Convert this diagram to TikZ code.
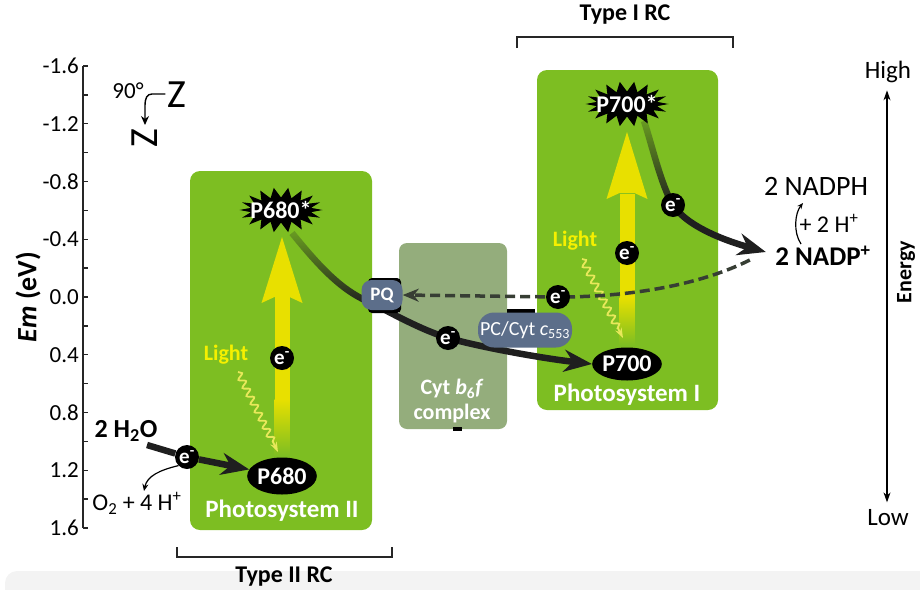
\documentclass[tikz,border=0pt]{standalone}
\usepackage{fontspec}
\setmainfont{Carlito}
\usetikzlibrary{arrows.meta,fadings,decorations.pathmorphing,shapes.geometric,calc}
\definecolor{psgreen}{RGB}{125,190,34}
\definecolor{cytgreen}{RGB}{148,173,124}
\definecolor{slate}{RGB}{92,110,138}
\definecolor{arrowyel}{RGB}{232,224,0}
\definecolor{lighttxt}{RGB}{245,240,0}
\definecolor{wavyel}{RGB}{232,232,90}
\definecolor{dashgray}{RGB}{55,62,52}
\definecolor{bandgray}{RGB}{243,243,243}
\newcommand\fsz[1]{\fontsize{#1}{#1}\selectfont}
\tikzfading[name=fadetop, top color=transparent!80, bottom color=transparent!0]
\begin{document}
\begin{tikzpicture}[x=1pt,y=-1pt,
  psbox/.style={fill=psgreen, rounded corners=10pt},
  axisline/.style={line width=1.3pt, draw=black!85},
  ecirc/.style={circle, fill=black, minimum size=24pt, inner sep=0pt, text=white, font=\fsz{21}\bfseries},
  pnode/.style={ellipse, fill=black, inner sep=0pt, text=white, font=\fsz{24}\bfseries},
  startxt/.style={text=white, font=\fsz{24}\bfseries, inner sep=0pt},
  carrier/.style={fill=slate, text=white, inner sep=0pt},
  etrans/.style={line width=6.5pt, draw=black!88},
  bigtip/.style={-{Stealth[length=28pt,width=22pt,inset=9pt]}},
  wave/.style={draw=wavyel, line width=1.8pt, decorate, decoration={snake, amplitude=3.2pt, segment length=9pt, post length=10pt}, -{Stealth[length=10pt,width=7pt]}},
  lighttext/.style={text=lighttxt, font=\fsz{22}\bfseries},
  pslabel/.style={text=white, font=\fsz{25}\bfseries},
  bracket/.style={line width=1.3pt, draw=black!85},
  rclabel/.style={font=\fsz{24}\bfseries}
]
\useasboundingbox (0,0) rectangle (920,589);
% bottom band
\fill[bandgray, rounded corners=12pt] (5,571) rectangle (935,605);

% energy scale (left)
\draw[axisline] (83,66) -- (83,528);
\foreach \i in {0,...,16}{ \draw[axisline] (83,{66+28.875*\i}) -- ++(5,0); }
\foreach \v [count=\k from 0] in {-1.6,-1.2,-0.8,-0.4,0.0,0.4,0.8,1.2,1.6}
  \node[anchor=east, font=\fsz{23}, inner sep=0pt] (tick\k) at (79,{66+57.75*\k}) {\v};
\node[rotate=90, font=\fsz{28}\bfseries] (emlab) at (28,297) {\textit{Em} (eV)};

% Z scheme mark
\node[font=\fsz{23}, inner sep=0pt] (z90) at (128,91) {90°};
\node[font=\fsz{40}, inner sep=0pt] (zbig) at (177,95) {Z};
\node[rotate=90, font=\fsz{40}, inner sep=0pt] (zrot) at (145,138) {Z};
\draw[line width=1.4pt, -{Stealth[length=9pt,width=8pt]}] ($(zbig.west)+(-2,-1)$) -- (152,94) .. controls (147,94) and (145,98) .. (145,106) -- (145,125);

% boxes
\fill[psbox] (190,171) rectangle (372,530);
\fill[psbox] (537,70) rectangle (718,410);
\fill[cytgreen, rounded corners=8pt] (399,243) rectangle (507,429);
\fill[black] (453,427) rectangle (462,431);

% yellow light arrows
\fill[arrowyel] (274.5,296) rectangle (289.5,400);
\shade[top color=arrowyel, bottom color=psgreen] (274.5,399) rectangle (289.5,456);
\fill[arrowyel] (261.5,303) -- (282,237) -- (302.5,303) -- (289.5,297) -- (274.5,297) -- cycle;
\fill[arrowyel] (619.5,194) rectangle (634.5,298);
\shade[top color=arrowyel, bottom color=psgreen] (619.5,297) rectangle (634.5,345);
\fill[arrowyel] (606.5,199) -- (627,132) -- (647.5,199) -- (634.5,193) -- (619.5,193) -- cycle;

% wavy light
\coordinate (w1s) at (238,372);
\coordinate (w1e) at (278,452);
\coordinate (w2s) at (582,259);
\coordinate (w2e) at (623,338);
\draw[wave] (w1s) -- (w1e);
\draw[wave] (w2s) -- (w2e);

% starbursts
\coordinate (c680s) at (281,210);
\coordinate (c700s) at (627,104);
\fill[black, shift={(c680s)}] plot[samples=37, domain=0:360, variable=\t] ({(36+5.5*cos(18*\t))*cos(\t)}, {(17.5+5*cos(18*\t))*sin(\t)}) -- cycle;
\fill[black, shift={(c700s)}] plot[samples=37, domain=0:360, variable=\t] ({(36+5.5*cos(18*\t))*cos(\t)}, {(17.5+5*cos(18*\t))*sin(\t)}) -- cycle;
\node[startxt] (p680s) at (c680s) {P680*};
\node[startxt] (p700s) at (c700s) {P700*};

% reaction centres
\node[pnode, minimum width=60pt, minimum height=37pt] (p680) at (282,476) {P680};
\node[pnode, minimum width=62pt, minimum height=33pt] (p700) at (627,364) {P700};
\node[pslabel] (ps2) at (282,511) {Photosystem II};
\node[pslabel] (ps1) at (627,395) {Photosystem I};
\node[lighttext] (light2) at (226,355) {Light};
\node[lighttext] (light1) at (575,241) {Light};

% labels
\node[font=\fsz{26}\bfseries] (h2o) at (126,431) {2 H\textsubscript{2}O};
\node[font=\fsz{24}] (o2) at (137,503) {O\textsubscript{2} + 4 H\textsuperscript{+}};
\node[font=\fsz{27}\bfseries] (nadp) at (823,256) {2 NADP\textsuperscript{+}};
\node[font=\fsz{28}] (nadph) at (816,186) {2 NADPH};
\node[font=\fsz{24}] (hplus) at (829,223) {+ 2 H\textsuperscript{+}};
\node[text=white, font=\fsz{22}\bfseries] (cyt1) at (452,389) {Cyt \textit{b}\textsubscript{6}\textit{f}};
\node[text=white, font=\fsz{22}\bfseries] (cyt2) at (452,414) {complex};

% electron path P680* -> PQ -> P700
\coordinate (pqin) at (372,303);
\coordinate (e3c) at (448,338);
\draw[etrans, path fading=fadetop] ($(p680s.center)+(11,23)$) .. controls (318,265) and (342,292) .. (pqin);
\draw[etrans, bigtip] (pqin) .. controls (400,318) and (425,331) .. (e3c) .. controls (480,347) and (540,358) .. (p700.west);

% electron path P700* -> NADP+
\coordinate (e6c) at (673,205);
\draw[etrans, path fading=fadetop] ($(p700s.center)+(17,17)$) .. controls (652,145) and (661,185) .. (e6c);
\coordinate (nadptip) at ($(nadp.west)+(-6,-4)$);
\draw[etrans, bigtip] (e6c) .. controls (688,228) and (730,242) .. (nadptip);

% cyclic (dashed) path
\coordinate (dstart) at ($(nadp.west)+(-22,4)$);
\coordinate (e5c) at (558,297);
\fill[black, rounded corners=4pt] (368,278) rectangle (401,313);
\node[carrier, rounded corners=10pt, minimum width=41pt, minimum height=30pt, font=\fsz{19}\bfseries] (pq) at (382,295) {PQ};
\draw[line width=3.5pt, draw=dashgray, dash pattern=on 10pt off 5pt, -{Stealth[length=16pt,width=13pt,inset=5pt]}] (dstart) .. controls (700,285) and (630,297) .. (e5c) -- (pq.east);

% PC / Cyt c553
\fill[black] (507,309) rectangle (535,322);
\node[carrier, rounded corners=16pt, minimum width=94pt, minimum height=35pt, font=\fsz{20}] (pc) at (525,330) {PC/Cyt \textit{c}\textsubscript{553}};

% water splitting
\node[ecirc] (e2) at (187,457) {e\textsuperscript{-}};
\coordinate (h2oend) at (147,445);
\draw[line width=6.5pt, draw=black!88] (h2oend) -- (e2);
\draw[etrans, bigtip] (e2) -- (p680);
\draw[line width=1.2pt, -{Stealth[length=7pt,width=6pt]}] (e2.south west) .. controls (160,470) and (147,476) .. (144,491);

% electrons
\node[ecirc] (e1) at (282,358) {e\textsuperscript{-}};
\node[ecirc] (e3) at (e3c) {e\textsuperscript{-}};
\node[ecirc] (e4) at (627,253) {e\textsuperscript{-}};
\node[ecirc] (e5) at (e5c) {e\textsuperscript{-}};
\node[ecirc] (e6) at (e6c) {e\textsuperscript{-}};

% NADPH small arrow
\coordinate (hs) at (801,244);
\coordinate (he) at (803,203);
\draw[line width=1.2pt, -{Stealth[length=6pt,width=5pt]}] (hs) .. controls (793,232) and (795,213) .. (he);

% brackets
\draw[bracket] (177,547) -- (177,557) -- (392,557) -- (392,547);
\node[rclabel] (t2) at (284,577) {Type II RC};
\draw[bracket] (517,48) -- (517,37) -- (733,37) -- (733,48);
\node[rclabel] (t1) at (625,15) {Type I RC};

% energy arrow (right)
\node[font=\fsz{25}] (high) at (888,72) {High};
\node[font=\fsz{25}] (low) at (888,518) {Low};
\draw[line width=1.3pt, {Stealth[length=10pt,width=7pt]}-{Stealth[length=10pt,width=7pt]}] ($(high.south)+(-1,4)$) -- ($(low.north)+(-1,-4)$);
\node[rotate=90, font=\fsz{22}\bfseries] (energy) at (906,272) {Energy};
\end{tikzpicture}
\end{document}
